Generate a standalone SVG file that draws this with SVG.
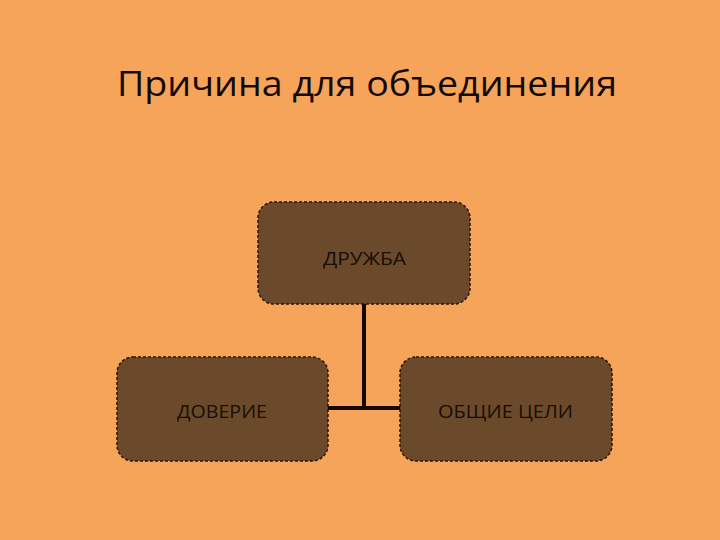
<svg xmlns="http://www.w3.org/2000/svg" width="720" height="540" viewBox="0 0 720 540">
<style>
.node rect{fill:#6b4a2b;stroke:#2a1505;stroke-width:1.5;stroke-dasharray:3 2}
.node text{font-family:"Open Sans","Liberation Sans",sans-serif;font-size:18px;fill:#1a0d05;text-anchor:middle}
.conn{stroke:#140800;stroke-width:4;fill:none}
</style>
<rect width="720" height="540" fill="#f6a45a"/>
<text x="367" y="96" font-family="Open Sans, Liberation Sans, sans-serif" font-size="34" fill="#140a05" text-anchor="middle" textLength="500" lengthAdjust="spacingAndGlyphs">Причина для объединения</text>
<g id="connectors">
<path class="conn" d="M364 304 V408"/>
<path class="conn" d="M328 408 H400"/>
</g>
<g id="node-druzhba" class="node">
<rect x="258" y="202" width="212" height="102" rx="16"/>
<text x="364.5" y="265" textLength="83" lengthAdjust="spacingAndGlyphs">ДРУЖБА</text>
</g>
<g id="node-doverie" class="node">
<rect x="117" y="357" width="211" height="104" rx="16"/>
<text x="222" y="418" textLength="90" lengthAdjust="spacingAndGlyphs">ДОВЕРИЕ</text>
</g>
<g id="node-obshchie" class="node">
<rect x="400" y="357" width="212" height="104" rx="16"/>
<text x="505.5" y="418" textLength="135" lengthAdjust="spacingAndGlyphs">ОБЩИЕ ЦЕЛИ</text>
</g>
</svg>
